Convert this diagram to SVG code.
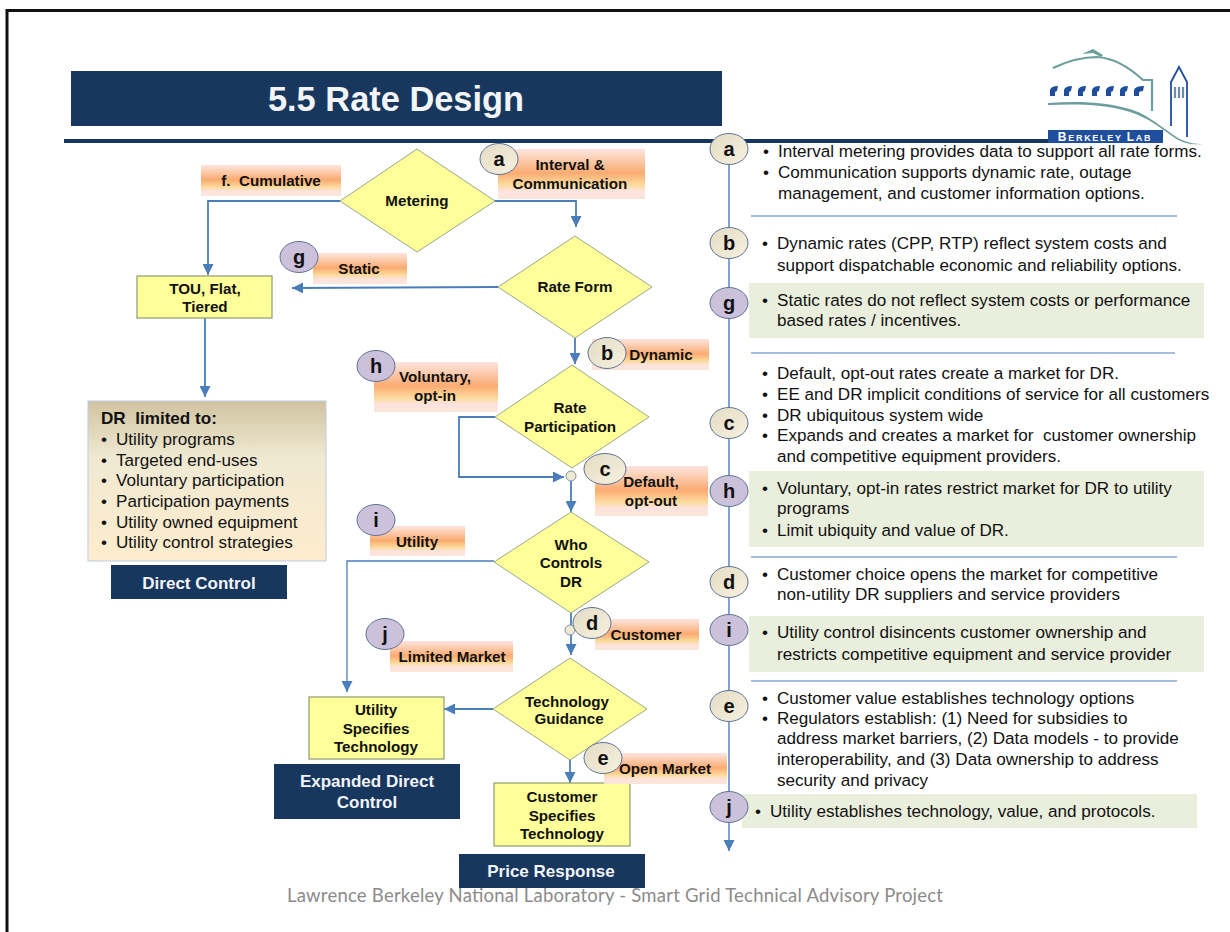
<svg xmlns="http://www.w3.org/2000/svg" width="1230" height="932" viewBox="0 0 1230 932">
<style>
text{font-family:"Liberation Sans",Arial,sans-serif;fill:#111;white-space:pre}
.b{font-weight:bold;font-size:15.2px;text-anchor:middle}
.r{font-size:17.1px}
.l{font-size:17.1px}
.n{font-weight:bold;font-size:17px;fill:#f2f4f8;text-anchor:middle}
.o{font-weight:bold;font-size:20px;text-anchor:middle}
.d{fill:#ffff99;stroke:#9aa88a;stroke-width:1}
.x{fill:#ffff99;stroke:#8f9a70;stroke-width:1.2}
.lab{fill:url(#og)}
.navy{fill:#17375e}
.pan{fill:#eaeedd}
.be{fill:url(#bg);stroke:#5f7396;stroke-width:1}
.pu{fill:#ccc1da;stroke:#5f7396;stroke-width:1}
.c{fill:none;stroke:#4a7ebb;stroke-width:1.800}
.t{fill:none;stroke:#4a7ebb;stroke-width:1.300}
.v{fill:none;stroke:#7fa3d3;stroke-width:2}
.h{fill:none;stroke:#4a7ebb;stroke-width:1.200}
</style>
<defs>
<linearGradient id="og" x1="0" y1="0" x2="0" y2="1">
<stop offset="0" stop-color="#fde3de"/><stop offset="0.12" stop-color="#fdd8c4"/><stop offset="0.48" stop-color="#fbab72"/><stop offset="0.72" stop-color="#fddc9e"/><stop offset="0.85" stop-color="#fde3e0"/><stop offset="1" stop-color="#fbe6d8"/>
</linearGradient>
<linearGradient id="bg" x1="0" y1="0" x2="1" y2="1">
<stop offset="0" stop-color="#e3dcc4"/><stop offset="1" stop-color="#f6f1df"/>
</linearGradient>
<linearGradient id="dr" x1="0" y1="0" x2="0" y2="1">
<stop offset="0" stop-color="#d0c3a0"/><stop offset="0.35" stop-color="#efe9d2"/><stop offset="1" stop-color="#ffeccd"/>
</linearGradient>
<marker id="a" markerUnits="userSpaceOnUse" markerWidth="12" markerHeight="11" refX="11" refY="5.500" orient="auto"><path d="M0,0L11,5.500L0,11Z" fill="#4a7ebb"/></marker>
</defs>
<rect width="1230" height="932" fill="#fff"/>
<path d="M7,932V10.500H1230" fill="none" stroke="#111" stroke-width="3"/>

<g id="title"><rect x="71" y="71" width="651" height="55" class="navy"/><text x="396" y="111" style="font-size:34.400px;font-weight:bold;fill:#f2f4f8;text-anchor:middle">5.5 Rate Design</text></g>
<rect id="rule" x="64" y="139" width="985" height="4" class="navy"/>

<g id="logo">
<path d="M1053,68C1070,60 1085,57 1097,57C1115,58 1130,68 1143,80H1152V111" fill="none" stroke="#6b9e9c" stroke-width="2.200"/>
<path d="M1082,54L1093,49L1103,55L1101,57L1093,53Z" fill="#6b9e9c"/>
<path d="M1048,103C1075,101 1105,101 1133,110C1150,116 1165,130 1178,138C1187,143 1195,144 1203,144C1192,145 1183,144 1172,136C1158,126 1148,118 1130,112C1105,104 1075,104 1048,105Z" fill="#6b9e9c"/>
<g fill="#1f4e9c"><path d="M1050,96V90Q1051,86 1058,86L1057,91Q1055,91 1055,93V96Z"/><path d="M1064,96V90Q1065,86 1072,86L1071,91Q1069,91 1069,93V96Z"/><path d="M1078,96V90Q1079,86 1086,86L1085,91Q1083,91 1083,93V96Z"/><path d="M1092,96V90Q1093,86 1100,86L1099,91Q1097,91 1097,93V96Z"/><path d="M1106,96V90Q1107,86 1114,86L1113,91Q1111,91 1111,93V96Z"/><path d="M1120,96V90Q1121,86 1128,86L1127,91Q1125,91 1125,93V96Z"/><path d="M1134,96V90Q1135,86 1144,86L1143,91Q1139,91 1139,93V96Z"/></g>
<path d="M1171,126V82L1179,67L1187,82V137" fill="none" stroke="#1f4e9c" stroke-width="1.800"/>
<path d="M1175,87V98M1179,87V98M1183,87V98" fill="none" stroke="#6f8aa8" stroke-width="2.200"/>
<rect x="1048" y="130" width="115" height="13" fill="#1f4e9c"/>
<text x="1105" y="141" style="font-size:9px;font-weight:bold;fill:#fff;text-anchor:middle;letter-spacing:1.700px"><tspan style="font-size:12px">B</tspan>ERKELEY <tspan style="font-size:12px">L</tspan>AB</text>
</g>

<g id="connectors">
<path class="c" d="M340,201H208V275" marker-end="url(#a)"/>
<path class="c" d="M495,201H576V227" marker-end="url(#a)"/>
<path class="c" d="M498,287L292,288" marker-end="url(#a)"/>
<path class="c" d="M575,338V364" marker-end="url(#a)"/>
<path class="c" d="M495,417H459V477H564" marker-end="url(#a)"/>
<path class="c" d="M571,481V512" marker-end="url(#a)"/>
<path class="t" d="M494,561H347V692" marker-end="url(#a)"/>
<path class="c" d="M571,613V655" marker-end="url(#a)"/>
<path class="c" d="M493,709H444" marker-end="url(#a)"/>
<path class="c" d="M570,760V783" marker-end="url(#a)"/>
<path class="c" d="M205,318V397" marker-end="url(#a)"/>
<path class="v" d="M729,149V851" marker-end="url(#a)"/>
<path class="h" d="M751,216H1177M751,353H1175M751,557H1177M751,681H1177"/>
</g>

<g id="n-metering"><path class="d" d="M340,201L417,149L495,201L417,252Z"/><text class="b" x="417" y="206">Metering</text></g>
<g id="n-rateform"><path class="d" d="M498,287L575,236L652,287L575,338Z"/><text class="b" x="575" y="292">Rate Form</text></g>
<g id="n-ratepart"><path class="d" d="M495,417L572,365L649,417L572,468Z"/><text class="b" x="570" y="413">Rate</text><text class="b" x="570" y="432">Participation</text></g>
<g id="n-who"><path class="d" d="M494,562L571,512L649,562L571,613Z"/><text class="b" x="571" y="550">Who</text><text class="b" x="571" y="568">Controls</text><text class="b" x="571" y="587">DR</text></g>
<g id="n-tech"><path class="d" d="M493,709L570,658L647,709L570,760Z"/><text class="b" x="567" y="707">Technology</text><text class="b" x="569" y="724">Guidance</text></g>
<g id="n-tou"><rect class="x" x="137" y="276" width="135" height="42"/><text class="b" x="205" y="294">TOU, Flat,</text><text class="b" x="205" y="312">Tiered</text></g>
<g id="n-utilspec"><rect class="x" x="309" y="697" width="135" height="62"/><text class="b" x="376" y="715">Utility</text><text class="b" x="376" y="734">Specifies</text><text class="b" x="376" y="752">Technology</text></g>
<g id="n-custspec"><rect class="x" x="494" y="783" width="136" height="63"/><text class="b" x="562" y="802">Customer</text><text class="b" x="562" y="821">Specifies</text><text class="b" x="562" y="839">Technology</text></g>

<circle cx="571" cy="476" r="5" fill="#efe9d2" stroke="#7f93a8"/>
<circle cx="570" cy="630" r="5" fill="#efe9d2" stroke="#7f93a8"/>

<g id="n-dr"><rect x="88" y="401" width="238" height="160" fill="url(#dr)" stroke="#b9cde5" stroke-width="1"/>
<text x="101" y="424" class="l" style="font-weight:bold">DR  limited to:</text>
<text x="101" y="445" class="l">•</text><text x="116" y="445" class="l">Utility programs</text><text x="101" y="466" class="l">•</text><text x="116" y="466" class="l">Targeted end-uses</text><text x="101" y="486" class="l">•</text><text x="116" y="486" class="l">Voluntary participation</text><text x="101" y="507" class="l">•</text><text x="116" y="507" class="l">Participation payments</text><text x="101" y="528" class="l">•</text><text x="116" y="528" class="l">Utility owned equipment</text><text x="101" y="548" class="l">•</text><text x="116" y="548" class="l">Utility control strategies</text></g>

<g id="n-direct"><rect class="navy" x="111" y="565" width="176" height="34"/><text class="n" x="199" y="589">Direct Control</text></g>
<g id="n-expanded"><rect class="navy" x="274" y="764" width="186" height="55"/><text class="n" x="367" y="787">Expanded Direct</text><text class="n" x="367" y="808">Control</text></g>
<g id="n-price"><rect class="navy" x="459" y="854" width="186" height="34"/><text class="n" x="551" y="877">Price Response</text></g>

<g id="lab-f"><rect class="lab" x="201" y="165" width="140" height="31"/><text class="b" x="271" y="186">f.  Cumulative</text></g>
<g id="lab-a"><rect class="lab" x="498" y="149" width="147" height="50"/><text class="b" x="570" y="170">Interval &amp;</text><text class="b" x="570" y="189">Communication</text><ellipse class="be" cx="499" cy="159" rx="19" ry="15.500"/><text class="o" x="499" y="166">a</text></g>
<g id="lab-g"><rect class="lab" x="313" y="253" width="94" height="31"/><text class="b" x="359" y="274">Static</text><ellipse class="pu" cx="299" cy="257" rx="19" ry="15.500"/><text class="o" x="299" y="264">g</text></g>
<g id="lab-b"><rect class="lab" x="592" y="339" width="117" height="31"/><text class="b" x="661" y="360">Dynamic</text><ellipse class="be" cx="607" cy="353" rx="19" ry="15.500"/><text class="o" x="607" y="360">b</text></g>
<g id="lab-h"><rect class="lab" x="374" y="362" width="124" height="50"/><text class="b" x="435" y="382">Voluntary,</text><text class="b" x="435" y="401">opt-in</text><ellipse class="pu" cx="376" cy="366" rx="19" ry="15.500"/><text class="o" x="376" y="373">h</text></g>
<g id="lab-c"><rect class="lab" x="595" y="466" width="113" height="50"/><text class="b" x="651" y="487">Default,</text><text class="b" x="651" y="506">opt-out</text><ellipse class="be" cx="605" cy="469" rx="21" ry="15.500"/><text class="o" x="605" y="476">c</text></g>
<g id="lab-i"><rect class="lab" x="370" y="526" width="95" height="30"/><text class="b" x="417" y="547">Utility</text><ellipse class="pu" cx="376" cy="520" rx="19" ry="15.500"/><text class="o" x="376" y="527">i</text></g>
<g id="lab-d"><rect class="lab" x="595" y="619" width="104" height="31"/><text class="b" x="646" y="640">Customer</text><ellipse class="be" cx="592" cy="623" rx="19" ry="15.500"/><text class="o" x="592" y="630">d</text></g>
<g id="lab-j"><rect class="lab" x="390" y="641" width="123" height="31"/><text class="b" x="452" y="662">Limited Market</text><ellipse class="pu" cx="385" cy="634" rx="19" ry="15.500"/><text class="o" x="385" y="641">j</text></g>
<g id="lab-e"><rect class="lab" x="604" y="753" width="123" height="31"/><text class="b" x="665" y="774">Open Market</text><ellipse class="be" cx="603" cy="758" rx="19" ry="15.500"/><text class="o" x="603" y="765">e</text></g>

<g id="panels">
<rect class="pan" x="749" y="283" width="455" height="55"/>
<rect class="pan" x="749" y="471" width="455" height="76"/>
<rect class="pan" x="749" y="616" width="455" height="56"/>
<rect class="pan" x="742" y="794" width="455" height="34"/>
</g>

<g id="k-a"><ellipse class="be" cx="729" cy="149" rx="19" ry="15.500"/><text class="o" x="729" y="156">a</text></g>
<g id="k-b"><ellipse class="be" cx="729" cy="243" rx="19" ry="15.500"/><text class="o" x="729" y="250">b</text></g>
<g id="k-g"><ellipse class="pu" cx="729" cy="303" rx="19" ry="15.500"/><text class="o" x="729" y="310">g</text></g>
<g id="k-c"><ellipse class="be" cx="729" cy="423" rx="19" ry="15.500"/><text class="o" x="729" y="430">c</text></g>
<g id="k-h"><ellipse class="pu" cx="729" cy="491" rx="19" ry="15.500"/><text class="o" x="729" y="498">h</text></g>
<g id="k-d"><ellipse class="be" cx="729" cy="582" rx="19" ry="15.500"/><text class="o" x="729" y="589">d</text></g>
<g id="k-i"><ellipse class="pu" cx="729" cy="630" rx="19" ry="15.500"/><text class="o" x="729" y="637">i</text></g>
<g id="k-e"><ellipse class="be" cx="729" cy="706" rx="19" ry="15.500"/><text class="o" x="729" y="713">e</text></g>
<g id="k-j"><ellipse class="pu" cx="729" cy="807" rx="19" ry="15.500"/><text class="o" x="729" y="814">j</text></g>

<g id="notes">
<text class="r" x="763" y="157">•</text><text class="r" x="778" y="157">Interval metering provides data to support all rate forms.</text>
<text class="r" x="763" y="178">•</text><text class="r" x="778" y="178">Communication supports dynamic rate, outage</text>
<text class="r" x="778" y="199">management, and customer information options.</text>
<text class="r" x="762" y="249">•</text><text class="r" x="777" y="249">Dynamic rates (CPP, RTP) reflect system costs and</text>
<text class="r" x="777" y="271">support dispatchable economic and reliability options.</text>
<text class="r" x="762" y="306">•</text><text class="r" x="777" y="306">Static rates do not reflect system costs or performance</text>
<text class="r" x="777" y="326">based rates / incentives.</text>
<text class="r" x="762" y="379">•</text><text class="r" x="777" y="379">Default, opt-out rates create a market for DR.</text>
<text class="r" x="762" y="400">•</text><text class="r" x="777" y="400">EE and DR implicit conditions of service for all customers</text>
<text class="r" x="762" y="421">•</text><text class="r" x="777" y="421">DR ubiquitous system wide</text>
<text class="r" x="762" y="441">•</text><text class="r" x="777" y="441">Expands and creates a market for  customer ownership</text>
<text class="r" x="777" y="462">and competitive equipment providers.</text>
<text class="r" x="762" y="494">•</text><text class="r" x="777" y="494">Voluntary, opt-in rates restrict market for DR to utility</text>
<text class="r" x="777" y="514">programs</text>
<text class="r" x="762" y="536">•</text><text class="r" x="777" y="536">Limit ubiquity and value of DR.</text>
<text class="r" x="762" y="580">•</text><text class="r" x="777" y="580">Customer choice opens the market for competitive</text>
<text class="r" x="777" y="600">non-utility DR suppliers and service providers</text>
<text class="r" x="762" y="638">•</text><text class="r" x="777" y="638">Utility control disincents customer ownership and</text>
<text class="r" x="777" y="660">restricts competitive equipment and service provider</text>
<text class="r" x="762" y="704">•</text><text class="r" x="777" y="704">Customer value establishes technology options</text>
<text class="r" x="762" y="724">•</text><text class="r" x="777" y="724">Regulators establish: (1) Need for subsidies to</text>
<text class="r" x="777" y="744">address market barriers, (2) Data models - to provide</text>
<text class="r" x="777" y="765">interoperability, and (3) Data ownership to address</text>
<text class="r" x="777" y="786">security and privacy</text>
<text class="r" x="755" y="817">•</text><text class="r" x="770" y="817">Utility establishes technology, value, and protocols.</text>
</g>
<text id="footer" x="615" y="902" textLength="656" style="font-family:Lato,'Open Sans',sans-serif;font-size:18.500px;fill:#8b8b8b;text-anchor:middle">Lawrence Berkeley National Laboratory - Smart Grid Technical Advisory Project</text>
</svg>
